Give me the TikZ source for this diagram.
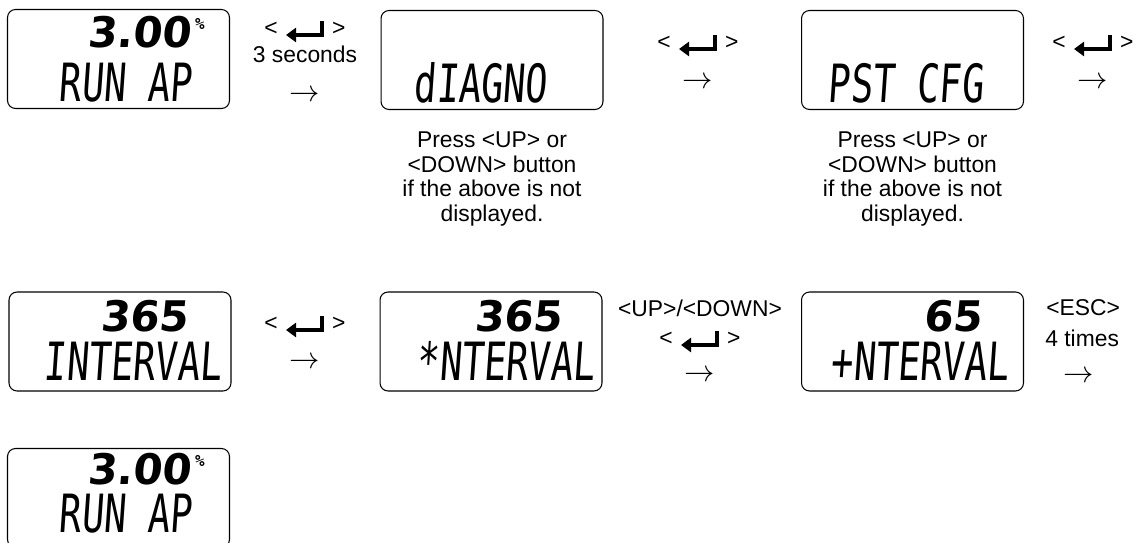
\documentclass[tikz,border=0pt]{standalone}
\usepackage{fontspec}
\setmainfont{Liberation Sans}
\newfontfamily\lcdfont{DejaVu Sans Mono}
\newfontfamily\lcdnum{DejaVu Sans}
\usetikzlibrary{arrows.meta}

% enter key drawn between < and >
\newcommand{\entkey}[1]{\draw[enter] ([shift={(17,-8)}]#1.center) |- ([shift={(-19,6)}]#1.center);}

\begin{document}
\begin{tikzpicture}[x=0.02cm, y=-0.02cm,
    lcd/.style={draw, line width=0.6pt, rounded corners=0.16cm, minimum width=4.44cm, minimum height=1.98cm},
    val/.style={font=\lcdnum\bfseries\fontsize{24}{24}\selectfont, xslant=0.1, inner sep=0},
    pct/.style={font=\lcdfont\bfseries\fontsize{9}{9}\selectfont, inner sep=0},
    msg/.style={font=\lcdfont\fontsize{30}{30}\selectfont, xscale=0.7, xslant=0.1, inner sep=0},
    lbl/.style={font=\fontsize{13}{14.2}\selectfont, inner sep=0},
    arr/.style={font=\fontsize{17.28}{18}\selectfont, inner sep=0},
    note/.style={lbl, align=center},
    enter/.style={line width=0.065cm, -{Triangle[length=0.2cm, width=0.28cm]}}]
\clip (0,0) rectangle (1139,543);

% first row
\node[lcd] (run) at (118.5,59) {};
\node[val, anchor=east] (runval) at (193,32) {3.00};
\node[pct] (runpct) at (200,24) {\%};
\node[msg, anchor=west] (runmsg) at (60,83) {RUN AP};

\node[lbl] (k1) at (305,29) {<\hspace{31pt}>};
\entkey{k1}
\node[lbl] (k1t) at (305,54) {3 seconds};
\node[arr] (k1a) at (305,96) {$\rightarrow$};

\node[lcd] (diag) at (492,60) {};
\node[msg, anchor=west] (diagmsg) at (415,83) {dIAGNO};
\node[note] (diagnote) at (492,179) {Press <UP> or\\<DOWN> button\\if the above is not\\displayed.};

\node[lbl] (k2) at (698,43) {<\hspace{31pt}>};
\entkey{k2}
\node[arr] (k2a) at (698,83) {$\rightarrow$};

\node[lcd] (pst) at (912.5,60) {};
\node[msg, anchor=west] (pstmsg) at (829,83) {PST CFG};
\node[note] (pstnote) at (912.5,179) {Press <UP> or\\<DOWN> button\\if the above is not\\displayed.};

\node[lbl] (k3) at (1093,43) {<\hspace{31pt}>};
\entkey{k3}
\node[arr] (k3a) at (1093,83) {$\rightarrow$};

% second row
\node[lcd] (ivl) at (120,341.5) {};
\node[val, anchor=east] (ivlval) at (190,316) {365};
\node[msg, anchor=west] (ivlmsg) at (45,361) {INTERVAL};

\node[lbl] (k4) at (305,324) {<\hspace{31pt}>};
\entkey{k4}
\node[arr] (k4a) at (305,363) {$\rightarrow$};

\node[lcd] (edit) at (491,341.5) {};
\node[val, anchor=east] (editval) at (564,316) {365};
\node[msg, anchor=west] (editmsg) at (418,361) {*NTERVAL};

\node[lbl] (k5t) at (700,308) {<UP>/<DOWN>};
\node[lbl] (k5) at (700,339) {<\hspace{31pt}>};
\entkey{k5}
\node[arr] (k5a) at (700,376) {$\rightarrow$};

\node[lcd] (new) at (912.5,341.5) {};
\node[val, anchor=east] (newval) at (984,316) {65};
\node[msg, anchor=west] (newmsg) at (832,361) {+NTERVAL};

\node[lbl, anchor=west] (k6t) at (1046,308) {<ESC>};
\node[lbl, anchor=west] (k6n) at (1045,338) {4 times};
\node[arr] (k6a) at (1079,377) {$\rightarrow$};

% third row
\node[lcd] (back) at (118.5,498) {};
\node[val, anchor=east] (backval) at (193,469) {3.00};
\node[pct] (backpct) at (200,461) {\%};
\node[msg, anchor=west] (backmsg) at (60,514) {RUN AP};
\end{tikzpicture}
\end{document}
